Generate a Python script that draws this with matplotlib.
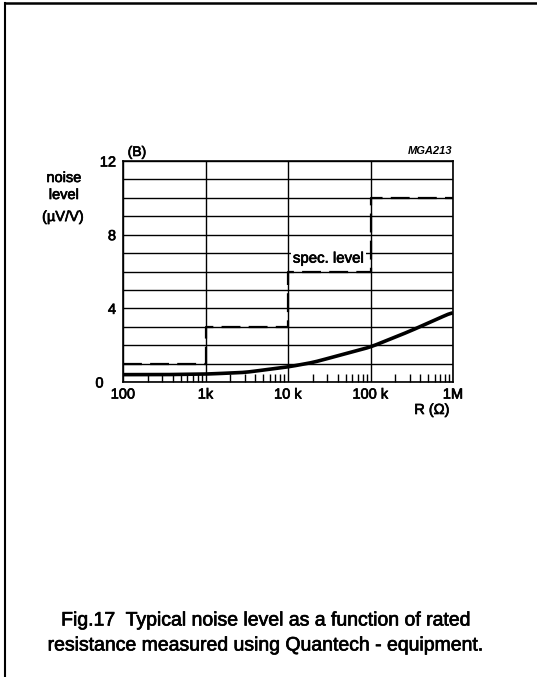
import matplotlib
matplotlib.use("Agg")
import matplotlib.pyplot as plt
import matplotlib.patheffects as pe
import numpy as np
from matplotlib.lines import Line2D
from matplotlib.ticker import LogLocator, NullFormatter, FixedLocator

plt.rcParams['font.family'] = ['Liberation Sans', 'DejaVu Sans']

# Data
r_curve = [100, 300, 1000, 3000, 10000, 20000, 100000, 300000, 1000000]
noise_curve = [0.40, 0.40, 0.43, 0.52, 0.82, 1.06, 1.90, 2.76, 3.80]

spec_r = [100, 1000, 1000, 10000, 10000, 100000, 100000, 1000000]
spec_level = [1, 1, 3, 3, 6, 6, 10, 10]

xticks = [100, 1000, 10000, 100000, 1000000]
xticklabels = ['100', '1k', '10 k', '100 k', '1M']
yticks = [0, 4, 8, 12]
yticklabels = ['0   ', '4', '8', '12']

heavy = [pe.withStroke(linewidth=0.5, foreground='black')]

fig = plt.figure(figsize=(5.37, 6.77), dpi=100)
ax = fig.add_axes([123/537, 1-382/677, 330/537, 221/677])

ax.set_xscale('log')
ax.set_xlim(100, 1e6)
ax.set_ylim(0, 12)

# smooth curve through points in log space
lx = np.log10(r_curve)
xs = np.linspace(lx[0], lx[-1], 200)
ys = np.interp(xs, lx, noise_curve)
k = 9
ys_s = np.convolve(np.pad(ys, k//2, mode='edge'), np.ones(k)/k, mode='valid')
ax.plot(10**xs, ys_s, color='black', lw=2.6, solid_capstyle='butt', zorder=4)

ax.plot(spec_r, spec_level, color='black', lw=1.6, dashes=(8.5, 3.7), zorder=4)

ax.set_xticks(xticks)
ax.set_xticklabels(xticklabels)
ax.xaxis.set_minor_locator(LogLocator(base=10, subs=np.arange(2, 10)))
ax.xaxis.set_minor_formatter(NullFormatter())
ax.set_yticks(yticks)
ax.set_yticklabels(yticklabels)
ax.yaxis.set_minor_locator(FixedLocator(np.arange(0, 13, 1)))

ax.grid(True, which='major', axis='x', color='black', lw=1.0)
ax.grid(True, which='both', axis='y', color='black', lw=1.0)
ax.set_axisbelow(True)

ax.tick_params(axis='x', which='minor', direction='in', length=6, width=1.0, bottom=True, top=False)
ax.tick_params(axis='x', which='major', direction='in', length=0, pad=4, labelsize=10.5)
ax.tick_params(axis='y', which='both', length=0, pad=5, labelsize=10.5)
for lbl in ax.get_xticklabels() + ax.get_yticklabels():
    lbl.set_path_effects(heavy)
for s in ax.spines.values():
    s.set_linewidth(1.2)

ax.text(10**4.92, 6.7, 'spec. level', ha='right', va='center', fontsize=10.8,
        bbox=dict(facecolor='white', edgecolor='none', pad=1.5), zorder=5,
        path_effects=heavy)

fig.text(137/537, 1-152/677, '(B)', ha='center', va='center', fontsize=10, path_effects=heavy)
fig.text(452/537, 1-151/677, 'MGA213', ha='right', va='center', fontsize=8,
         fontweight='bold', fontstyle='italic')
fig.text(64/537, 1-178/677, 'noise', ha='center', va='center', fontsize=10.5, path_effects=heavy)
fig.text(64/537, 1-195/677, 'level', ha='center', va='center', fontsize=10.5, path_effects=heavy)
fig.text(63/537, 1-217/677, '(\u00b5V/V)', ha='center', va='center', fontsize=10.5, path_effects=heavy)
fig.text(432/537, 1-410/677, 'R (\u03a9)', ha='center', va='center', fontsize=10.5, path_effects=heavy)

fig.text(267/537, 1-621/677, 'Fig.17  Typical noise level as a function of rated',
         ha='center', va='center', fontsize=14, path_effects=heavy)
fig.text(267/537, 1-646/677, 'resistance measured using Quantech - equipment.',
         ha='center', va='center', fontsize=14, path_effects=heavy)

# page frame (left and top border)
fig.add_artist(Line2D([5/537, 5/537], [0, 1-3/677], color='black', lw=1.5, transform=fig.transFigure))
fig.add_artist(Line2D([5/537, 1], [1-3/677, 1-3/677], color='black', lw=1.8, transform=fig.transFigure))

fig.savefig('out.png', dpi=100)
